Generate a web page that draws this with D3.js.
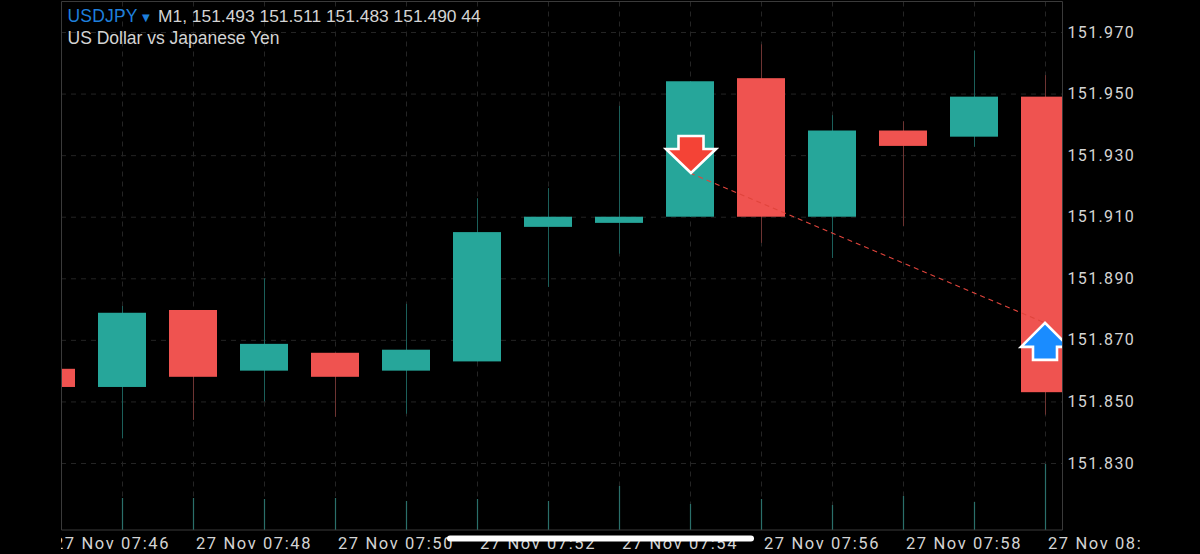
<!DOCTYPE html>
<html><head><meta charset="utf-8">
<script src="https://cdn.jsdelivr.net/npm/d3@7/dist/d3.min.js"></script>
<style>html,body{margin:0;padding:0;background:#000;overflow:hidden}svg{display:block}</style>
</head><body><svg id="c" width="1200" height="554"></svg>
<script>
const times=["07:46","07:47","07:48","07:49","07:50","07:51","07:52","07:53","07:54","07:55","07:56","07:57","07:58","07:59","08:00"];
const open =[151.8606,151.8547,151.8797,151.8600,151.8658,151.8600,151.8630,151.9067,151.9080,151.9100,151.9550,151.9100,151.9380,151.9360,151.9490];
const close=[151.8547,151.8788,151.8580,151.8687,151.8580,151.8668,151.9050,151.9100,151.9100,151.9540,151.9100,151.9380,151.9330,151.9490,151.8530];
const high =[151.8606,151.8810,151.8797,151.8900,151.8658,151.8817,151.9160,151.9193,151.9460,151.9540,151.9660,151.9430,151.9410,151.9640,151.9560];
const low  =[151.8547,151.8380,151.8440,151.8500,151.8450,151.8460,151.8630,151.8872,151.8980,151.9100,151.9015,151.8966,151.9070,151.9327,151.8457];
const volume=[30,32,32,31,32,29,31,29,44,26,31,25,34,28,66];
const priceTicks=[151.97,151.95,151.93,151.91,151.89,151.87,151.85,151.83];
const timeTicks=[0,2,4,6,8,10,12,14];
const timeLabels=["27 Nov 07:46","27 Nov 07:48","27 Nov 07:50","27 Nov 07:52","27 Nov 07:54","27 Nov 07:56","27 Nov 07:58","27 Nov 08:00"];
const tradeEntry={i:9,price:151.9242};
const tradeExit={i:14,price:151.8755};

const L=61,R=1062.5,T=1.5,B=530;
const x=d3.scaleLinear().domain([0,14]).range([51,1045]);
const y=d3.scaleLinear().domain([151.83,151.97]).range([463,32]);
const v=d3.scaleLinear().domain([0,66]).range([B,B-66]);
const GREEN="#26a69a",RED="#ef5350";
const svg=d3.select("#c");
const defs=svg.append("defs");
defs.append("clipPath").attr("id","plot").append("rect").attr("x",L).attr("y",T).attr("width",R-L).attr("height",B-T);
defs.append("clipPath").attr("id","xl").append("rect").attr("x",L).attr("y",B).attr("width",1140-L).attr("height",554-B);
svg.append("rect").attr("width",1200).attr("height",554).attr("fill","#000");

// grid
const g=svg.append("g").attr("clip-path","url(#plot)");
g.selectAll(".gh").data(priceTicks).join("line").attr("x1",L).attr("x2",R).attr("y1",d=>y(d)+.5).attr("y2",d=>y(d)+.5)
 .attr("stroke","#242424").attr("stroke-dasharray","5 5");
g.selectAll(".gv").data(d3.range(0,15)).join("line").attr("x1",d=>x(d)+.5).attr("x2",d=>x(d)+.5).attr("y1",T).attr("y2",B)
 .attr("stroke","#242424").attr("stroke-dasharray","5 5");

// volume
g.selectAll(".vol").data(volume).join("line").attr("x1",(d,i)=>x(i)+.5).attr("x2",(d,i)=>x(i)+.5).attr("y1",B).attr("y2",d=>v(d))
 .attr("stroke","#2a6f6a").attr("stroke-width",1.2);

// candles
const idx=d3.range(times.length);
g.selectAll(".wick").data(idx).join("line").attr("x1",i=>x(i)+.5).attr("x2",i=>x(i)+.5).attr("y1",i=>y(high[i])).attr("y2",i=>y(low[i]))
 .attr("stroke",i=>close[i]>=open[i]?"#1b5f5a":"#6e3432").attr("stroke-width",1);
g.selectAll(".body").data(idx).join("rect").attr("x",i=>x(i)-24).attr("width",48)
 .attr("y",i=>y(Math.max(open[i],close[i]))).attr("height",i=>Math.abs(y(open[i])-y(close[i])))
 .attr("fill",i=>close[i]>=open[i]?GREEN:RED);

// trade line
g.append("line").attr("x1",x(tradeEntry.i)).attr("y1",y(tradeEntry.price)).attr("x2",x(tradeExit.i)).attr("y2",y(tradeExit.price))
 .attr("stroke","#e0443c").attr("stroke-width",1.2).attr("stroke-dasharray","5 4");

// arrows
const line=d3.line();
const downShape=[[0,0],[-25,-24],[-12.5,-24],[-12.5,-37],[12.5,-37],[12.5,-24],[25,-24]];
const upShape=[[0,0],[-24,24],[-12,24],[-12,37],[12,37],[12,24],[24,24]];
g.append("path").attr("d",line(downShape)+"Z").attr("transform",`translate(${x(tradeEntry.i)+1},${y(tradeEntry.price)})`)
 .attr("fill","#f44336").attr("stroke","#fff").attr("stroke-width",2.6).attr("stroke-linejoin","miter");
g.append("path").attr("d",line(upShape)+"Z").attr("transform",`translate(${x(tradeExit.i)},${y(tradeExit.price)})`)
 .attr("fill","#1a8cff").attr("stroke","#fff").attr("stroke-width",2.6).attr("stroke-linejoin","miter");

// frame
svg.append("path").attr("d",`M${L+.5},${T}V${B}H${R}V${T}H${L+.5}`).attr("fill","none").attr("stroke","#3a3a3a").attr("stroke-width",1);

// axes
const FONT="Roboto, sans-serif";
const ay=svg.append("g").attr("transform",`translate(${R},0)`).call(d3.axisRight(y).tickValues(priceTicks).tickFormat(d3.format(".3f")).tickSize(0).tickPadding(5));
ay.select(".domain").remove();
ay.selectAll("text").attr("fill","#d4d4d4").attr("font-family",FONT).attr("font-size",16).attr("letter-spacing","1.35px");
const ax=svg.append("g").attr("clip-path","url(#xl)").append("g").attr("transform",`translate(0,${B})`)
 .call(d3.axisBottom(x).tickValues(timeTicks).tickFormat((d,i)=>timeLabels[i]).tickSize(0).tickPadding(7));
ax.select(".domain").remove();
ax.selectAll("text").attr("fill","#d4d4d4").attr("font-family",FONT).attr("font-size",16.5).attr("letter-spacing","1.6px").attr("text-anchor","start").attr("dx",2.5);

// header
const HF="'Liberation Sans', Arial, sans-serif";
svg.append("text").attr("x",67.5).attr("y",22).attr("fill","#1e7fdc").attr("font-family",HF).attr("font-size",17.5).attr("letter-spacing","0.2px").text("USDJPY");
svg.append("text").attr("x",142).attr("y",21).attr("fill","#1e7fdc").attr("font-family","'DejaVu Sans'").attr("font-size",10).text("▼");
svg.append("text").attr("x",158).attr("y",22).attr("fill","#d4d4d4").attr("font-family",HF).attr("font-size",17.4).text("M1, 151.493 151.511 151.483 151.490 44");
svg.append("text").attr("x",67.5).attr("y",44).attr("fill","#d4d4d4").attr("font-family",HF).attr("font-size",17.5).text("US Dollar vs Japanese Yen");

// system home indicator
svg.append("rect").attr("x",447).attr("y",535.5).attr("width",307).attr("height",6).attr("rx",3).attr("fill","#fff");
</script></body></html>
